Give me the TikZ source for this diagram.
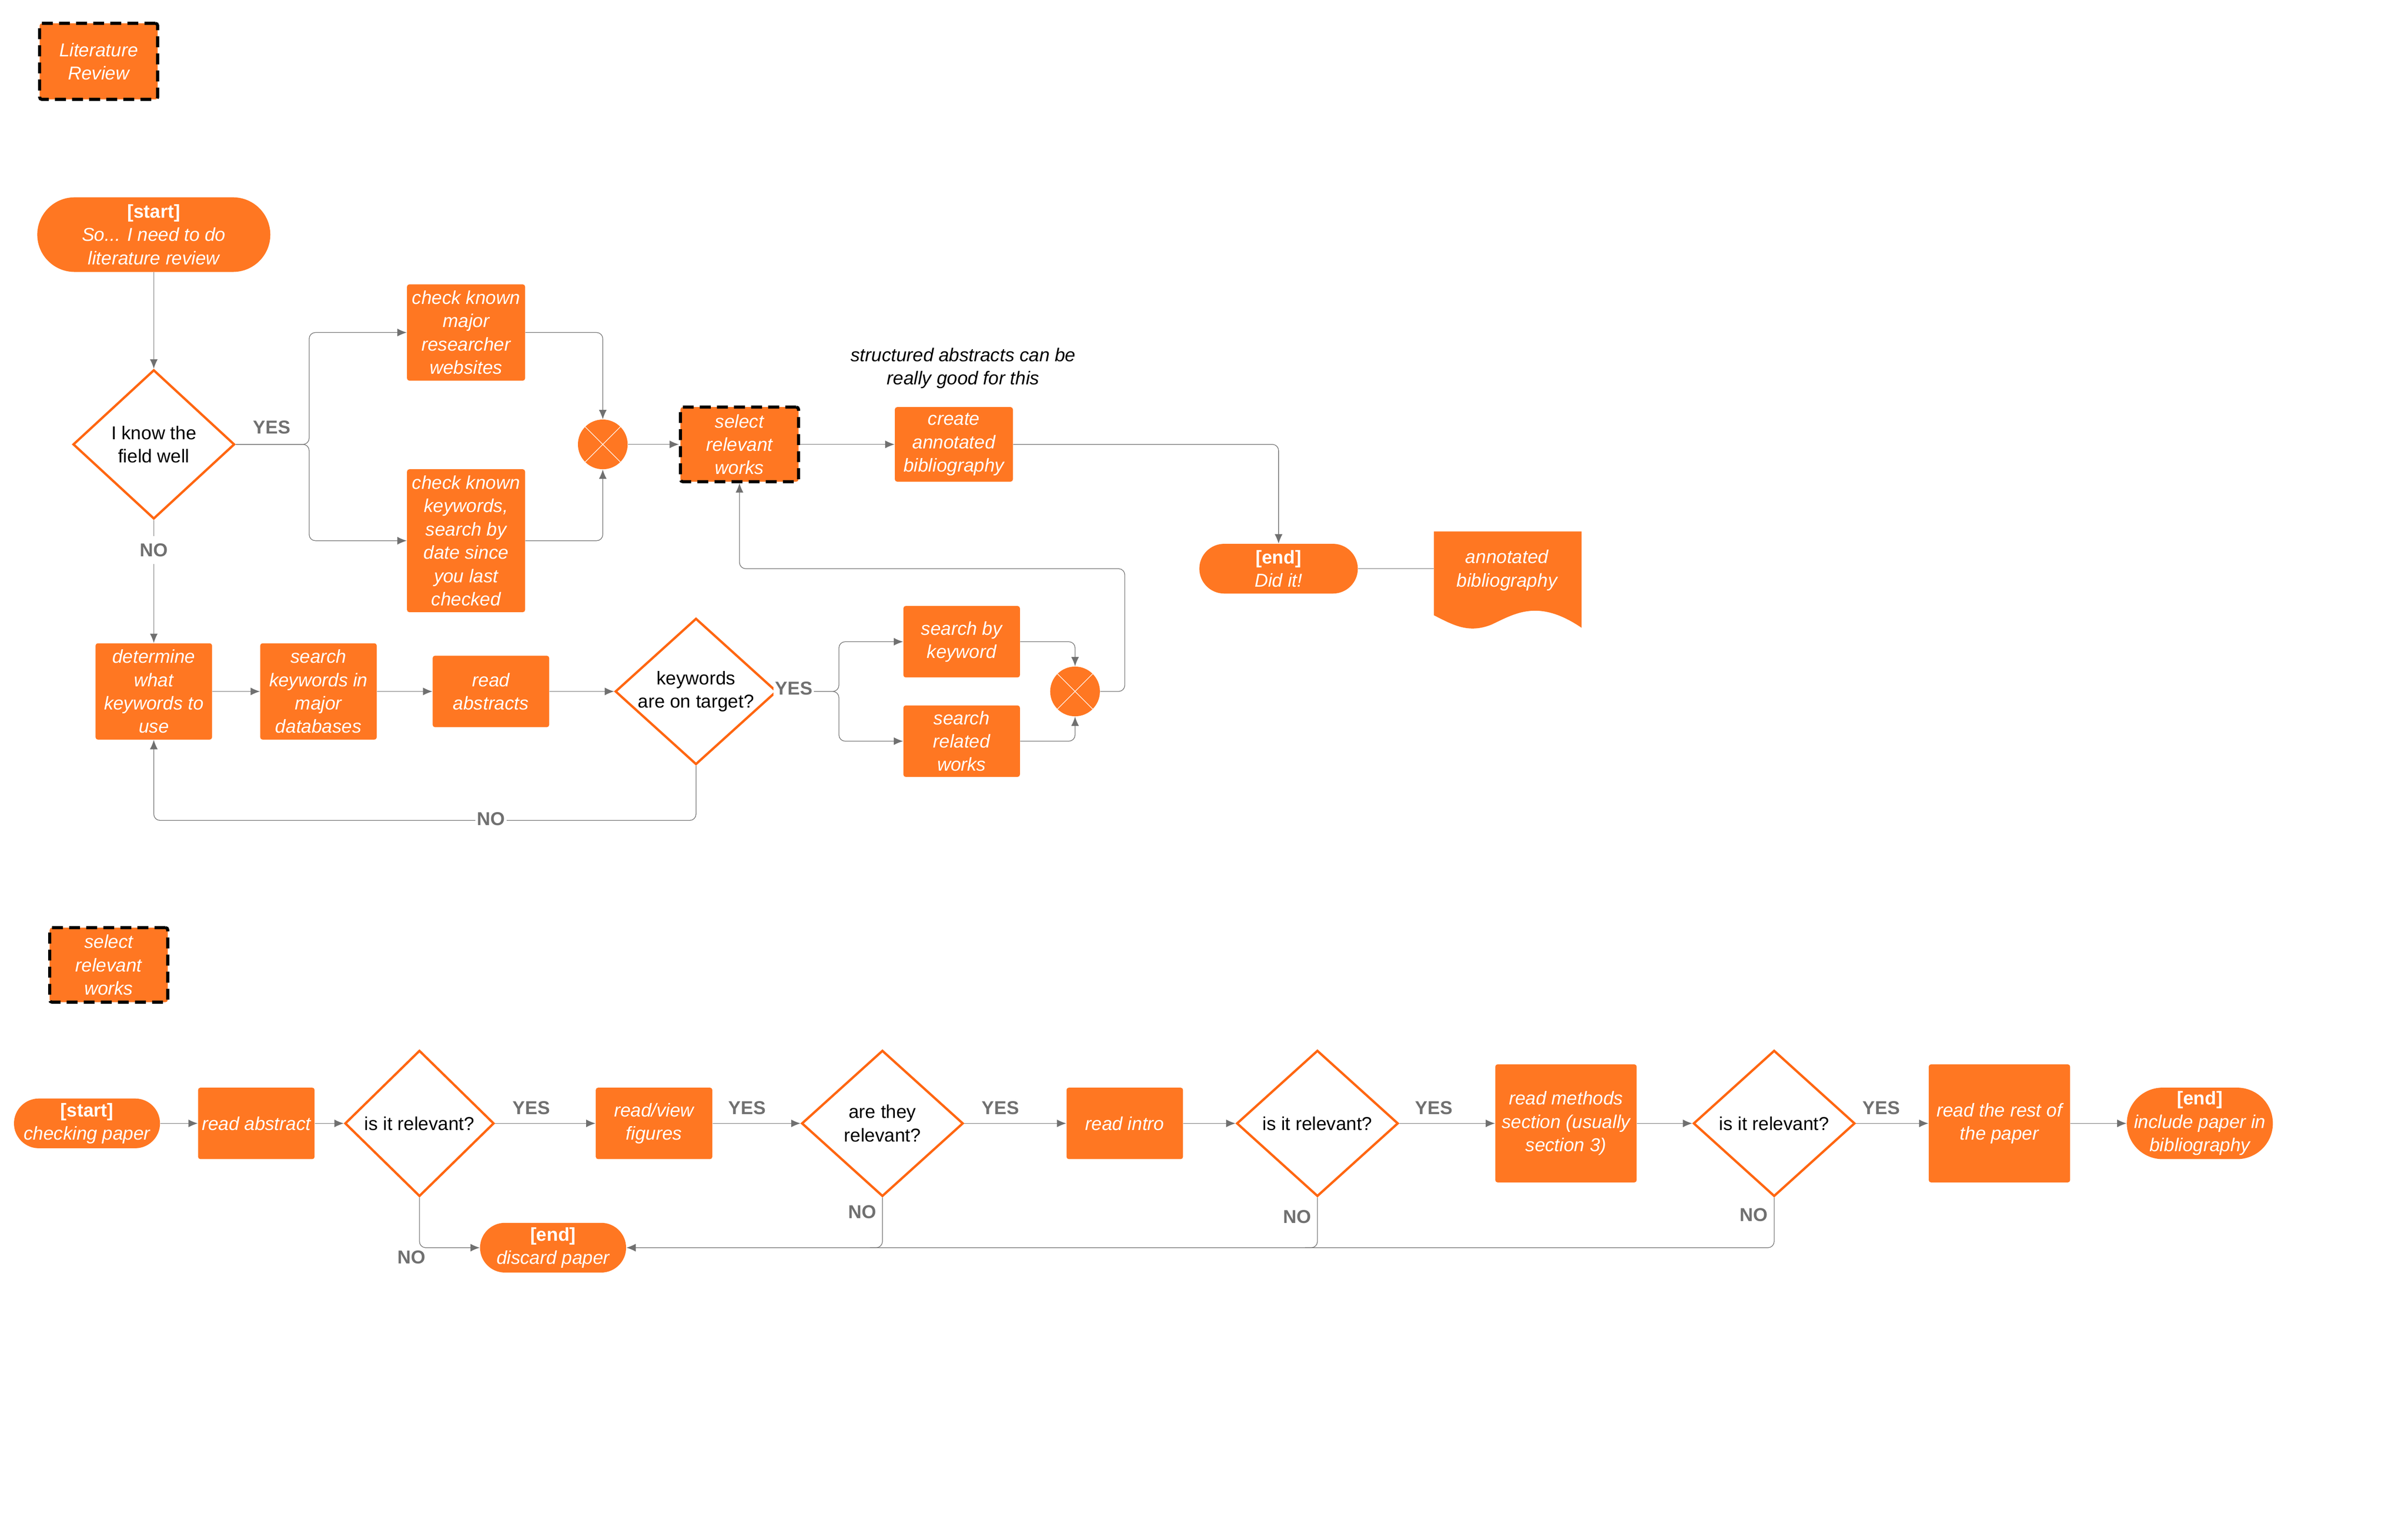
\documentclass[tikz,border=0pt]{standalone}
\usepackage{fontspec}
\setmainfont{Liberation Sans}
\usetikzlibrary{shapes.geometric,arrows.meta}
\definecolor{orng}{HTML}{FF7722}
\definecolor{ordge}{HTML}{FF6611}
\definecolor{lgray}{HTML}{707070}
\begin{document}
\begin{tikzpicture}[x=1pt,y=-1pt,font=\fontsize{12}{15}\selectfont,
every node/.style={align=center,inner sep=1pt},
block/.style={fill=orng,text=white,font=\fontsize{12}{15}\selectfont\itshape,rounded corners=1.5pt,minimum width=#1},
block/.default=75pt,
pill/.style={fill=orng,text=white,font=\fontsize{12}{15}\selectfont\itshape,rounded corners=16pt,minimum width=#1},
dashbox/.style={block=76pt,draw=black,line width=2pt,dash pattern=on 7pt off 4pt,minimum height=48pt},
decision/.style={diamond,draw=ordge,line width=1.5pt,fill=white,aspect=#1,inner sep=0pt},
merge/.style={circle,fill=orng,minimum size=32pt,inner sep=0pt,path picture={\draw[white,thin] (path picture bounding box.north west)--(path picture bounding box.south east) (path picture bounding box.north east)--(path picture bounding box.south west);}},
lbl/.style={text=lgray,font=\fontsize{12}{14}\selectfont\bfseries},
line/.style={draw=lgray,thin,rounded corners=4pt},
arr/.style={line,-{Latex[length=6pt,width=5pt]}}]
\useasboundingbox (0,0) rectangle (1550,989);

% literature review
\node[dashbox=65pt,minimum height=49pt] (litrev) at (63.5,39.5) {Literature\\Review};
\node[pill=150pt,minimum height=48pt,rounded corners=24pt] (start) at (99,151) {\textbf{\upshape[start]}\\So... I need to do\\literature review};
\node[decision=1.08,minimum width=104pt,minimum height=96pt] (know) at (99,286) {I know the\\field well};
\node[block=76pt,minimum height=62pt] (chk1) at (300,214) {check known\\major\\researcher\\websites};
\node[block=76pt,minimum height=92pt] (chk2) at (300,348) {check known\\keywords,\\search by\\date since\\you last\\checked};
\node[merge] (x1) at (388,286) {};
\node[dashbox] (sel) at (476,286) {select\\relevant\\works};
\node[font=\fontsize{12}{15}\selectfont\itshape] (note) at (620,237) {structured abstracts can be\\really good for this};
\node[block=76pt,minimum height=48pt] (annot) at (614,286) {create\\annotated\\bibliography};
\node[pill=102pt,minimum height=32pt] (end1) at (823,366) {\textbf{\upshape[end]}\\Did it!};
\fill[orng] (923,342) -- (1018,342) -- (1018,404) .. controls (990,385) and (975,395) .. (960,402) .. controls (945,408) and (935,402) .. (923,396) -- cycle;
\node[text=white,font=\fontsize{12}{15}\selectfont\itshape] (bib) at (970,367) {annotated\\bibliography};
\node[block,minimum height=62pt] (det) at (99,445) {determine\\what\\keywords to\\use};
\node[block,minimum height=62pt] (srch) at (205,445) {search\\keywords in\\major\\databases};
\node[block,minimum height=46pt] (readab) at (316,445) {read\\abstracts};
\node[decision=1.1,minimum width=104pt,minimum height=94pt] (kw) at (448,445) {keywords\\are on target?};
\node[block,minimum height=46pt] (sbk) at (619,413) {search by\\keyword};
\node[block,minimum height=46pt] (srw) at (619,477) {search\\related\\works};
\node[merge] (x2) at (692,445) {};

\draw[arr] (start) -- (know);
\draw[arr] (know.east) -- (199,286) |- (chk1.west);
\draw[arr] (know.east) -- (199,286) |- (chk2.west);
\node[lbl] (yes1) at (175,275) {YES};
\draw[arr] (chk1.east) -| (x1.north);
\draw[arr] (chk2.east) -| (x1.south);
\draw[arr] (x1) -- (sel);
\draw[arr] (sel) -- (annot);
\draw[arr] (annot.east) -| (end1.north);
\draw[line] (end1) -- (923,366);
\draw[line] (know.south) -- (99,345);
\node[lbl] (no1) at (99,354) {NO};
\draw[arr] (99,363) -- (det.north);
\draw[arr] (det) -- (srch);
\draw[arr] (srch) -- (readab);
\draw[arr] (readab) -- (kw);
\draw[arr] (kw.east) -- (540,445) |- (sbk.west);
\draw[arr] (kw.east) -- (540,445) |- (srw.west);
\node[lbl,fill=white] (yes2) at (511,443) {YES};
\draw[arr] (sbk.east) -| (x2.north);
\draw[arr] (srw.east) -| (x2.south);
\draw[arr] (x2.east) -- (724,445) |- (476,366) -- (sel.south);
\draw[arr] (kw.south) |- (99,528) -- (det.south);
\node[lbl,fill=white] (no2) at (316,527) {NO};

% select relevant works
\node[dashbox] (sel2) at (70,621) {select\\relevant\\works};
\node[pill=94pt,minimum height=32pt] (start2) at (56,723) {\textbf{\upshape[start]}\\checking paper};
\node[block,minimum height=46pt] (rab) at (165,723) {read abstract};
\node[decision=1.02,minimum width=96pt,minimum height=94pt] (rel1) at (270,723) {is it relevant?};
\node[block,minimum height=46pt] (rvf) at (421,723) {read/view\\figures};
\node[decision=1.1,minimum width=104pt,minimum height=94pt] (rel2) at (568,723) {are they\\relevant?};
\node[block,minimum height=46pt] (ri) at (724,723) {read intro};
\node[decision=1.1,minimum width=104pt,minimum height=94pt] (rel3) at (848,723) {is it relevant?};
\node[block=91pt,minimum height=76pt] (rm) at (1008,723) {read methods\\section (usually\\section 3)};
\node[decision=1.1,minimum width=104pt,minimum height=94pt] (rel4) at (1142,723) {is it relevant?};
\node[block=91pt,minimum height=76pt] (rr) at (1287,723) {read the rest of\\the paper};
\node[pill=94pt,minimum height=46pt,rounded corners=23pt] (end2) at (1416,723) {\textbf{\upshape[end]}\\include paper in\\bibliography};
\node[pill=94pt,minimum height=32pt] (disc) at (356,803) {\textbf{\upshape[end]}\\discard paper};

\draw[arr] (start2) -- (rab);
\draw[arr] (rab) -- (rel1);
\draw[arr] (rel1) -- (rvf);
\draw[arr] (rvf) -- (rel2);
\draw[arr] (rel2) -- (ri);
\draw[arr] (ri) -- (rel3);
\draw[arr] (rel3) -- (rm);
\draw[arr] (rm) -- (rel4);
\draw[arr] (rel4) -- (rr);
\draw[arr] (rr) -- (end2);
\node[lbl] (yes3) at (342,713) {YES};
\node[lbl] (yes4) at (481,713) {YES};
\node[lbl] (yes5) at (644,713) {YES};
\node[lbl] (yes6) at (923,713) {YES};
\node[lbl] (yes7) at (1211,713) {YES};
\draw[arr] (rel1.south) |- (disc.west);
\draw[arr] (rel4.south) |- (disc.east);
\draw[line] (rel2.south) |- (560,803);
\draw[line] (rel3.south) |- (840,803);
\node[lbl] (no3) at (265,809) {NO};
\node[lbl] (no4) at (555,780) {NO};
\node[lbl] (no5) at (835,783) {NO};
\node[lbl] (no6) at (1129,782) {NO};
\end{tikzpicture}
\end{document}
